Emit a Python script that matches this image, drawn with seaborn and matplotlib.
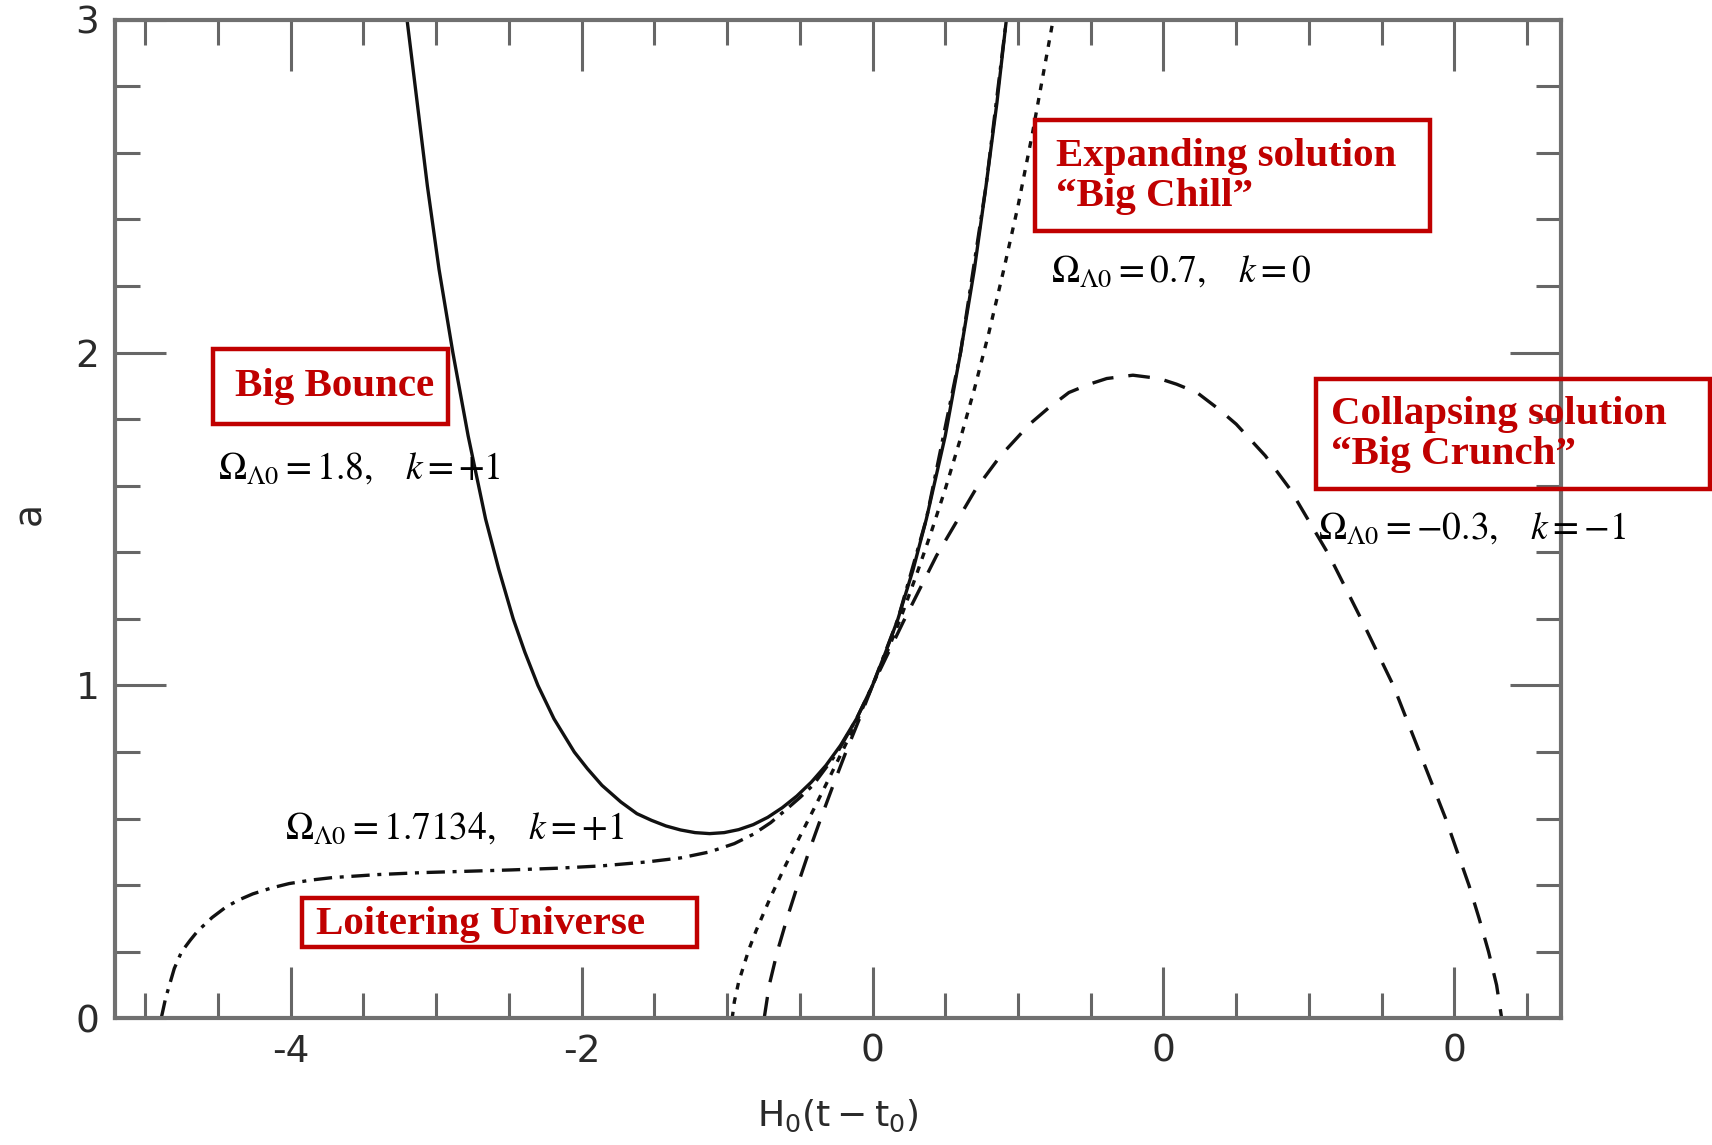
import numpy as np
import pandas as pd
import matplotlib
matplotlib.use("Agg")
import matplotlib.pyplot as plt
from matplotlib.patches import Rectangle
from matplotlib.ticker import MultipleLocator
import seaborn as sns

# ---------------- data ----------------
# Big Bounce (solid): Omega_L0 = 1.8, k = +1
bounce_x = [-3.20, -3.13, -3.06, -2.98, -2.885, -2.78, -2.66, -2.57, -2.47, -2.39,
            -2.30, -2.19, -2.05, -1.96, -1.86, -1.73, -1.62, -1.52, -1.42, -1.32,
            -1.22, -1.12, -1.02, -0.92, -0.82, -0.72, -0.62, -0.52, -0.42, -0.32,
            -0.22, -0.11, 0.0, 0.09, 0.175, 0.28, 0.37, 0.50, 0.605, 0.70,
            0.78, 0.855, 0.92]
bounce_a = [3.00, 2.75, 2.50, 2.25, 2.00, 1.75, 1.50, 1.35, 1.20, 1.10,
            1.00, 0.90, 0.80, 0.75, 0.70, 0.65, 0.615, 0.595, 0.578, 0.566,
            0.558, 0.555, 0.558, 0.567, 0.582, 0.604, 0.633, 0.668, 0.71, 0.76,
            0.82, 0.90, 1.00, 1.10, 1.20, 1.35, 1.50, 1.75, 2.00, 2.25,
            2.50, 2.75, 3.00]

# Big Chill (dotted): Omega_L0 = 0.7, k = 0
chill_x = [-0.965, -0.95, -0.92, -0.85, -0.80, -0.70, -0.60, -0.50, -0.40, -0.30,
           -0.20, -0.10, 0.0, 0.10, 0.20, 0.30, 0.40, 0.50, 0.60, 0.70,
           0.80, 0.90, 1.00, 1.10, 1.20, 1.25]
chill_a = [0.0, 0.05, 0.11, 0.207, 0.264, 0.365, 0.458, 0.546, 0.632, 0.72,
           0.809, 0.90, 1.00, 1.10, 1.21, 1.33, 1.456, 1.59, 1.735, 1.89,
           2.06, 2.245, 2.44, 2.66, 2.90, 3.02]

# Big Crunch (dashed): Omega_L0 = -0.3, k = -1
crunch_x = [-0.745, -0.71, -0.655, -0.588, -0.515, -0.438, -0.356, -0.271, -0.183, -0.09,
            0.0, 0.21, 0.44, 0.71, 0.88, 1.08, 1.20, 1.35, 1.49, 1.61,
            1.79, 1.97, 2.09, 2.23, 2.38, 2.50, 2.70, 2.87, 3.14, 3.37,
            3.58, 3.67, 3.76, 3.85, 3.94, 4.02, 4.10, 4.17, 4.235, 4.29, 4.325]
crunch_a = [0.0, 0.10, 0.20, 0.30, 0.40, 0.50, 0.60, 0.70, 0.80, 0.90,
            1.00, 1.19, 1.39, 1.59, 1.69, 1.785, 1.83, 1.88, 1.905, 1.922,
            1.932, 1.922, 1.905, 1.88, 1.83, 1.785, 1.69, 1.59, 1.39, 1.19,
            1.00, 0.90, 0.80, 0.70, 0.60, 0.50, 0.40, 0.30, 0.20, 0.10, 0.0]

# Loitering Universe (dash-dot): Omega_L0 = 1.7134, k = +1
loiter_x = [-4.89, -4.86, -4.80, -4.75, -4.69, -4.64, -4.54, -4.44, -4.35, -4.26,
            -4.13, -4.01, -3.85, -3.71, -3.40, -3.09, -2.78, -2.48, -2.17, -1.865,
            -1.55, -1.32, -1.12, -0.95, -0.82, -0.70, -0.60, -0.50, -0.41, -0.24,
            -0.11, 0.0, 0.175, 0.37, 0.605, 0.78, 0.92]
loiter_a = [0.0, 0.06, 0.15, 0.20, 0.235, 0.262, 0.303, 0.336, 0.357, 0.374,
            0.392, 0.405, 0.416, 0.423, 0.432, 0.438, 0.442, 0.446, 0.451, 0.458,
            0.470, 0.482, 0.50, 0.525, 0.553, 0.588, 0.625, 0.663, 0.70, 0.80,
            0.90, 1.0, 1.2, 1.5, 2.0, 2.5, 3.0]

xtick_values = [-4, -2, 0, 2, 4]
xtick_labels = ['-4', '-2', '0', '0', '0']
ytick_values = [0, 1, 2, 3]
ytick_labels = ['0', '1', '2', '3']

x_label = r'$\mathregular{H_0(t-t_0)}$'
y_label = 'a'

box_texts = ['Big Bounce', 'Expanding solution\n\u201cBig Chill\u201d',
             'Collapsing solution\n\u201cBig Crunch\u201d', 'Loitering Universe']
param_texts = [r'$\Omega_{\Lambda 0}=1.8,\ \ \ k=+1$',
               r'$\Omega_{\Lambda 0}=0.7,\ \ \ k=0$',
               r'$\Omega_{\Lambda 0}=-0.3,\ \ \ k=-1$',
               r'$\Omega_{\Lambda 0}=1.7134,\ \ \ k=+1$']

# ---------------- figure ----------------
sns.set_theme(style='white')
plt.rcParams['font.family'] = ['DejaVu Sans']

W, H = 1568.0, 1049.0  # reference frame used for placements
fig = plt.figure(figsize=(17.12, 11.45), dpi=100)
fig.patch.set_facecolor('white')
ax_l, ax_r, ax_t, ax_b = 105, 1430, 18, 933
ax = fig.add_axes([ax_l / W, 1 - ax_b / H, (ax_r - ax_l) / W, (ax_b - ax_t) / H])

ink = '#111111'


def draw(xs, ys, dashes):
    df = pd.DataFrame({'x': xs, 'a': ys})
    sns.lineplot(data=df, x='x', y='a', ax=ax, sort=False, estimator=None,
                 color=ink, linewidth=2.4)
    line = ax.lines[-1]
    if dashes is not None:
        line.set_dashes(dashes)


draw(loiter_x, loiter_a, (5.5, 2.3, 1.2, 2.3))
draw(chill_x, chill_a, (2.0, 2.4))
draw(crunch_x, crunch_a, (6.5, 4.5))
draw(bounce_x, bounce_a, None)

ax.set_xlim(-5.21, 4.735)
ax.set_ylim(0, 3)
ax.set_xticks(xtick_values, labels=xtick_labels)
ax.set_yticks(ytick_values, labels=ytick_labels)
ax.xaxis.set_minor_locator(MultipleLocator(0.5))
ax.yaxis.set_minor_locator(MultipleLocator(0.2))
ax.tick_params(which='both', direction='in', top=True, right=True, bottom=True,
               left=True, color='#666666', width=2.2)
ax.tick_params(which='major', length=37, labelsize=27, labelcolor='#2a2a2a', pad=11)
ax.tick_params(which='minor', length=18)
for s in ax.spines.values():
    s.set_color('#707070')
    s.set_linewidth(3)
ax.set_xlabel('')
ax.set_ylabel('')
ax.grid(False)

fig.text(767 / W, 1 - 1022 / H, x_label, fontsize=26, color='#2a2a2a',
         ha='center', va='center')
fig.text(28 / W, 1 - 470 / H, y_label, fontsize=27, color='#2a2a2a',
         ha='center', va='center', rotation=90)

red = '#c00000'
# boxes: (left, top, right, bottom) in reference pixels, text anchor (left, center y)
boxes = [((195, 320, 410, 388), (215, 354)),
         ((948, 110, 1310, 212), (967, 162)),
         ((1205, 347, 1566, 448), (1219, 398)),
         ((277, 823, 638, 868), (289, 847))]
for (l, t, r, b), (tx, ty), txt in zip([bx[0] for bx in boxes], [bx[1] for bx in boxes], box_texts):
    fig.add_artist(Rectangle((l / W, 1 - b / H), (r - l) / W, (b - t) / H,
                             transform=fig.transFigure, fill=False,
                             edgecolor=red, linewidth=3.2, zorder=5))
    fig.text(tx / W, 1 - ty / H, txt, family='Liberation Serif', fontweight='bold',
             fontsize=29.5, color=red, ha='left', va='center', linespacing=1.1, zorder=6)

param_pos = [(200, 438), (963, 258), (1207, 493), (261, 768)]
for (px, py), txt in zip(param_pos, param_texts):
    fig.text(px / W, 1 - py / H, txt, math_fontfamily='stix', fontsize=27,
             color='black', ha='left', va='baseline', zorder=6)

fig.savefig('out.png', dpi=100, facecolor='white')
